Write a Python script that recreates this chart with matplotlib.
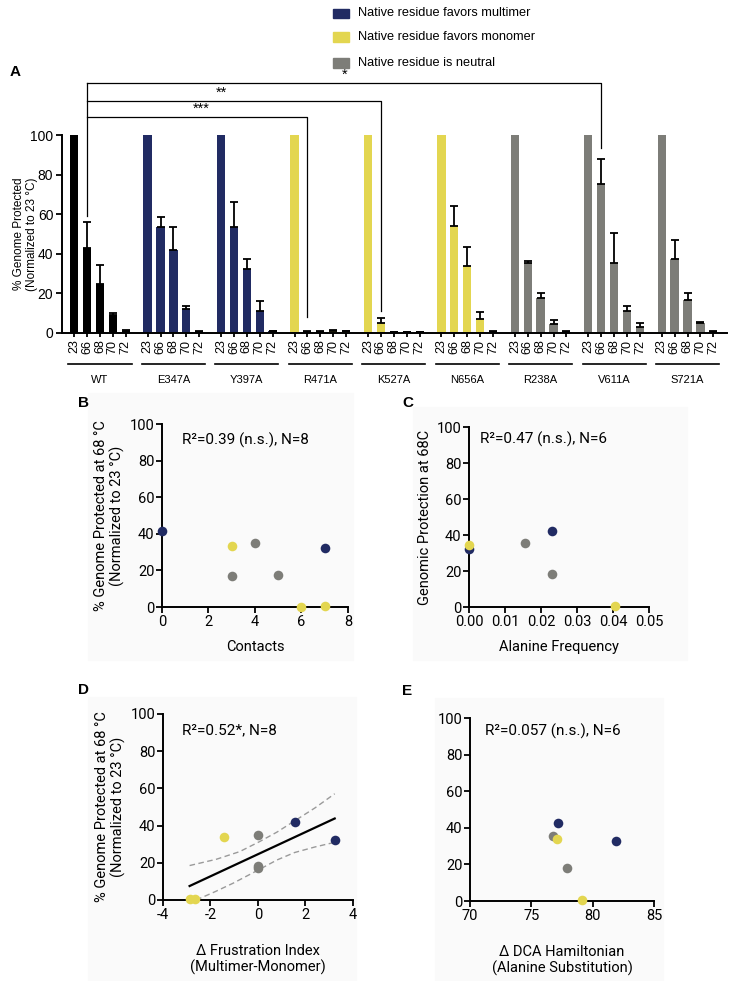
import numpy as np
import matplotlib
matplotlib.use('Agg')
import matplotlib.pyplot as plt
from matplotlib.patches import Rectangle

plt.rcParams['font.family'] = ['Roboto', 'DejaVu Sans']
helv = ['Liberation Sans', 'DejaVu Sans']

# Colours for each residue class
colors = {
    'wt': 'black',
    'multimer': '#212b63',   # native residue favors multimer
    'monomer': '#e3d650',    # native residue favors monomer
    'neutral': '#7d7d78',    # native residue is neutral
}
legend_labels = {
    'multimer': 'Native residue favors multimer',
    'monomer': 'Native residue favors monomer',
    'neutral': 'Native residue is neutral',
}

# ---- Panel A data: % genome protected at each temperature ----
temps = ['23', '66', '68', '70', '72']
mutants = ['WT', 'E347A', 'Y397A', 'R471A', 'K527A', 'N656A', 'R238A', 'V611A', 'S721A']
mutant_class = ['wt', 'multimer', 'multimer', 'monomer', 'monomer', 'monomer',
                'neutral', 'neutral', 'neutral']

wt_vals = [100, 42.7, 24.5, 8.8, 0.8]
e347a_vals = [100, 53.3, 42.0, 12.0, 0.5]
y397a_vals = [100, 53.3, 32.2, 11.0, 0.7]
r471a_vals = [100, 0.5, 0.5, 0.6, 0.7]
k527a_vals = [100, 4.7, 0.3, 0.3, 0.3]
n656a_vals = [100, 54.0, 33.7, 6.7, 0.3]
r238a_vals = [100, 35.4, 17.4, 4.4, 0.5]
v611a_vals = [100, 75.2, 35.1, 11.0, 3.0]
s721a_vals = [100, 37.4, 16.5, 4.9, 0.5]

# upper error bar lengths (SEM)
wt_err = [0, 13.3, 9.7, 1.2, 0.4]
e347a_err = [0, 5.0, 11.5, 1.5, 0.3]
y397a_err = [0, 13.0, 5.1, 5.0, 0.3]
r471a_err = [0, 0.5, 0.3, 0.5, 0.3]
k527a_err = [0, 2.7, 0.2, 0.2, 0.2]
n656a_err = [0, 10.0, 9.6, 3.8, 0.4]
r238a_err = [0, 0.9, 2.6, 2.2, 0.2]
v611a_err = [0, 12.5, 15.5, 2.7, 1.7]
s721a_err = [0, 9.3, 3.5, 0.3, 0.3]

bar_values = [wt_vals, e347a_vals, y397a_vals, r471a_vals, k527a_vals,
              n656a_vals, r238a_vals, v611a_vals, s721a_vals]
bar_errors = [wt_err, e347a_err, y397a_err, r471a_err, k527a_err,
              n656a_err, r238a_err, v611a_err, s721a_err]

# significance brackets: WT 66 C vs mutant 66 C
sig_targets = ['R471A', 'K527A', 'V611A']
sig_labels = ['***', '**', '*']
sig_heights = [109.2, 117.3, 126.4]
sig_drop_to = [8.1, 11.1, 93.3]
wt_drop_to = 59

# ---- Scatter panels (68 C protection vs. structural metrics) ----
b_contacts = [0, 7, 3, 6, 7, 4, 3, 5]
b_protect = [41.7, 32.2, 33.6, 0.2, 0.5, 34.9, 16.8, 17.7]
b_class = ['multimer', 'multimer', 'monomer', 'monomer', 'monomer', 'neutral', 'neutral', 'neutral']

c_alanine = [0.0, 0.0, 0.0157, 0.0231, 0.0231, 0.0406]
c_protect = [32.4, 34.3, 35.6, 42.4, 18.1, 0.6]
c_class = ['multimer', 'monomer', 'neutral', 'multimer', 'neutral', 'monomer']

d_frustration = [-2.88, -2.67, -1.45, 0.0, 0.0, 0.0, 1.54, 3.26]
d_protect = [0.5, 0.3, 34.0, 35.0, 17.2, 18.0, 42.0, 32.3]
d_class = ['monomer', 'monomer', 'monomer', 'neutral', 'neutral', 'neutral', 'multimer', 'multimer']
# linear fit and 95% confidence band
d_fit_x = [-2.88, 3.23]
d_fit_y = [7.5, 43.8]
d_upper_x = [-2.88, -1.75, -0.77, 0.07, 0.8, 1.54, 2.4, 3.23]
d_upper_y = [18.5, 21.9, 26.0, 31.4, 36.5, 42.5, 49.5, 57.1]
d_lower_x = [-2.6, -1.8, -1.05, 0.07, 0.8, 1.54, 2.4, 3.23]
d_lower_y = [0.0, 4.5, 9.0, 16.5, 21.5, 25.5, 28.5, 31.0]

e_dca = [77.14, 76.79, 77.12, 81.92, 77.88, 79.1]
e_protect = [42.6, 35.3, 34.0, 32.8, 18.0, 0.4]
e_class = ['multimer', 'neutral', 'monomer', 'multimer', 'neutral', 'monomer']

W, H = 729, 981
fig = plt.figure(figsize=(W / 100, H / 100), dpi=100)


def px_rect(x0, y0, x1, y1):
    # pixel box (top-left origin) -> figure fraction rect
    return [x0 / W, 1 - y1 / H, (x1 - x0) / W, (y1 - y0) / H]


# faint panel backgrounds
for box in [(88, 393, 353, 660), (413, 407, 687, 660), (88, 697, 356, 981), (435, 698, 663, 981)]:
    r = px_rect(*box)
    fig.patches.append(Rectangle((r[0], r[1]), r[2], r[3], transform=fig.transFigure,
                                 color='#fafafa', zorder=-10))

# ---------------- Panel A ----------------
axA = fig.add_axes([0.0846, 0.6609, 0.9126, 0.2619])
group_step = 5.7
positions = []
for i, (m, vals, errs) in enumerate(zip(mutants, bar_values, bar_errors)):
    x = i * group_step + np.arange(len(temps))
    positions.extend(x)
    axA.bar(x, vals, width=0.65, color=colors[mutant_class[i]], zorder=2)
    axA.errorbar(x[1:], vals[1:], yerr=[np.zeros(4), errs[1:]], fmt='none',
                 ecolor='black', elinewidth=1.3, capsize=2.6, capthick=1.3, zorder=3)
    # group underline and name
    trans = axA.get_xaxis_transform()
    axA.plot([x[0] - 0.45, x[-1] + 0.45], [-0.121, -0.121], transform=trans,
             clip_on=False, color='black', lw=1.2)
    axA.text(x[2], -0.186, m, transform=trans, ha='center', va='center',
             fontsize=8, family=helv)

axA.set_xticks(positions)
axA.set_xticklabels(temps * len(mutants), rotation=90, fontsize=9, family=helv)
axA.set_xlim(-0.97, 8 * group_step + 4 + 1.06)
axA.set_ylim(0, 130)
axA.set_yticks([0, 20, 40, 60, 80, 100])
axA.set_yticklabels(['0', '20', '40', '60', '80', '100'], fontsize=10, family=helv)
axA.spines['left'].set_bounds(0, 100)
for s in ['top', 'right']:
    axA.spines[s].set_visible(False)
axA.spines['left'].set_linewidth(1.4)
axA.spines['bottom'].set_linewidth(1.4)
axA.tick_params(axis='y', length=4, width=1.3, pad=2)
axA.tick_params(axis='x', length=3, width=1.3, pad=2)
axA.set_ylabel('% Genome Protected\n(Normalized to 23 °C)', fontsize=8.5, family=helv,
               linespacing=1.1)
axA.yaxis.set_label_coords(-0.036, 50 / 130)

# significance brackets
wt66 = 1
axA.plot([wt66, wt66], [wt_drop_to, max(sig_heights)], color='black', lw=0.9, clip_on=False)
star_x = [9.9, 11.4, 21.0]
for target, lab, hgt, drop, sx in zip(sig_targets, sig_labels, sig_heights, sig_drop_to, star_x):
    tx = mutants.index(target) * group_step + 1
    axA.plot([wt66, tx, tx], [hgt, hgt, drop], color='black', lw=0.9, clip_on=False)
    axA.text(sx, hgt + 0.3, lab, ha='center', va='bottom', fontsize=10.5, family=helv)

fig.text(10 / W, 1 - 72 / H, 'A', fontsize=11, fontweight='bold', family=helv, va='center')

# legend (top right)
for k, cls in enumerate(['multimer', 'monomer', 'neutral']):
    cy = [13, 37, 63][k]
    r = px_rect(333, cy - 4.5, 349, cy + 4.5)
    fig.patches.append(Rectangle((r[0], r[1]), r[2], r[3], transform=fig.transFigure,
                                 color=colors[cls]))
    fig.text(358 / W, 1 - cy / H, legend_labels[cls], fontsize=9.2, family=helv,
             va='center', ha='left')


# ---------------- Scatter panels ----------------
def scatter_panel(rect, xs, ys, cls, xlim, xticks, xticklabels, xlabel, ylabel, note,
                  note_xy, labelpad):
    ax = fig.add_axes(rect)
    for x, y, c in zip(xs, ys, cls):
        ax.scatter(x, y, s=48, color=colors[c], clip_on=False, zorder=3, linewidths=0)
    ax.set_xlim(*xlim)
    ax.set_ylim(0, 100)
    ax.set_xticks(xticks)
    ax.set_xticklabels(xticklabels, fontsize=10.5)
    ax.set_yticks([0, 20, 40, 60, 80, 100])
    ax.set_yticklabels(['0', '20', '40', '60', '80', '100'], fontsize=10.5)
    for s in ['top', 'right']:
        ax.spines[s].set_visible(False)
    for s in ['left', 'bottom']:
        ax.spines[s].set_linewidth(1.4)
    ax.tick_params(length=4, width=1.3, pad=1.5)
    ax.set_facecolor('none')
    ax.set_xlabel(xlabel, fontsize=10.5, labelpad=labelpad, linespacing=1.15)
    if ylabel:
        ax.set_ylabel(ylabel, fontsize=10.5, labelpad=3, linespacing=1.15)
    ax.text(note_xy[0], note_xy[1], note, transform=ax.transAxes, fontsize=11, va='center')
    return ax


ylab = '% Genome Protected at 68 °C\n(Normalized to 23 °C)'
scatter_panel([0.2222, 0.3812, 0.2551, 0.1865], b_contacts, b_protect, b_class,
              (0, 8), [0, 2, 4, 6, 8], ['0', '2', '4', '6', '8'], 'Contacts', ylab,
              'R²=0.39 (n.s.), N=8', (0.11, 0.91), 8)
scatter_panel([0.6433, 0.3812, 0.2469, 0.1835], c_alanine, c_protect, c_class,
              (0, 0.05), [0, 0.01, 0.02, 0.03, 0.04, 0.05],
              ['0.00', '0.01', '0.02', '0.03', '0.04', '0.05'], 'Alanine Frequency',
              'Genomic Protection at 68C', 'R²=0.47 (n.s.), N=6', (0.06, 0.93), 8)
axD = scatter_panel([0.2236, 0.0826, 0.2606, 0.1896], d_frustration, d_protect, d_class,
                    (-4, 4), [-4, -2, 0, 2, 4], ['-4', '-2', '0', '2', '4'],
                    'Δ Frustration Index\n(Multimer-Monomer)', ylab,
                    'R²=0.52*, N=8', (0.1, 0.91), 16)
axD.plot(d_fit_x, d_fit_y, color='black', lw=1.6, zorder=2)
axD.plot(d_upper_x, d_upper_y, color='#9a9a9a', lw=1.0, ls=(0, (4, 2.5)), zorder=2)
axD.plot(d_lower_x, d_lower_y, color='#9a9a9a', lw=1.0, ls=(0, (4, 2.5)), zorder=2)
scatter_panel([0.6447, 0.0815, 0.2524, 0.1865], e_dca, e_protect, e_class,
              (70, 85), [70, 75, 80, 85], ['70', '75', '80', '85'],
              'Δ DCA Hamiltonian\n(Alanine Substitution)', None,
              'R²=0.057 (n.s.), N=6', (0.08, 0.93), 16)

for lab, (x, y) in zip(['B', 'C', 'D', 'E'], [(78, 403), (402, 403), (78, 690), (402, 691)]):
    fig.text(x / W, 1 - y / H, lab, fontsize=11, fontweight='bold', family=helv, va='center')

plt.savefig('out.png', dpi=100)
